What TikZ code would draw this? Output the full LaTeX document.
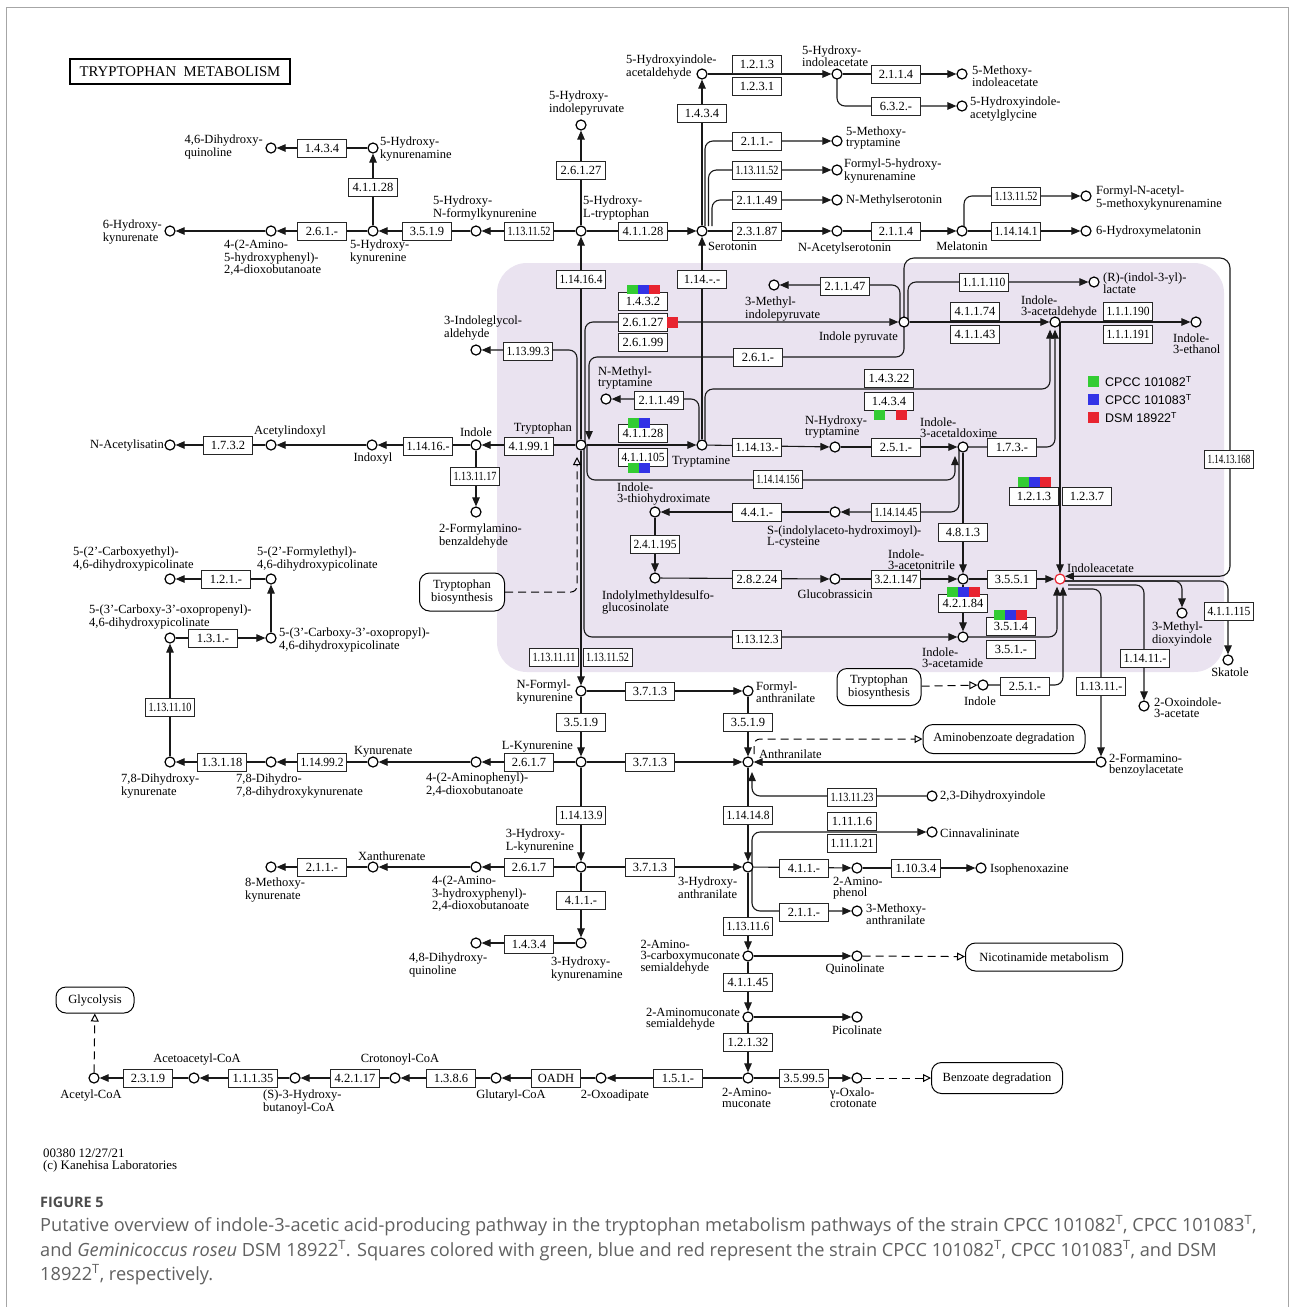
\documentclass[tikz,border=0pt]{standalone}
\usepackage{fontspec}
\usepackage{graphicx}
\setmainfont{Liberation Serif}
\newfontfamily\capfont{Open Sans}
\newfontfamily\legfont{Liberation Sans}
\usetikzlibrary{arrows.meta}
\pgfdeclarelayer{back}
\pgfdeclarelayer{lines}
\pgfsetlayers{back,lines,main}
\definecolor{purp}{RGB}{234,227,240}
\definecolor{cg}{RGB}{51,204,51}
\definecolor{cb}{RGB}{51,51,230}
\definecolor{cr}{RGB}{232,36,48}
\newcommand{\labfont}{\fontsize{12.5}{11}\selectfont}
\newsavebox\ecsave
\newcommand{\ecfit}[1]{\sbox\ecsave{#1}\ifdim\wd\ecsave>43pt\relax\resizebox{43pt}{\height}{#1}\else\usebox\ecsave\fi}
\tikzset{
  cpd/.style={circle, draw=black, fill=white, line width=1.2pt, minimum size=10pt, inner sep=0pt},
  ec/.style={draw=black!85, fill=white, line width=0.9pt, minimum width=49pt, minimum height=18pt, inner sep=0pt, font=\labfont},
  lab/.style={font=\labfont, inner sep=0pt, align=left},
  rxn/.style={line width=1.1pt, draw=black!90},
  arr/.style={-{Triangle[length=9pt,width=7.5pt]}},
  oarr/.style={-{Triangle[open,length=8pt,width=8pt]}},
  dashln/.style={dash pattern=on 8pt off 5pt, line width=1pt},
  mapn/.style={draw, rounded corners=10pt, line width=1pt, fill=white, font=\labfont, align=center, inner sep=2pt},
  legtxt/.style={font=\legfont\fontsize{12.5}{14}\selectfont, inner sep=0pt, anchor=west},
  captxt/.style={anchor=base west, inner sep=0pt, text=black!62, font=\capfont\fontsize{18.2}{20}\selectfont},
}
\newcommand{\Cpd}[2]{\node[cpd] (#1) at (#2) {};}
\newcommand{\Enz}[3]{\node[ec] (#1) at (#2) {\ecfit{#3}};}
\newcommand{\Lab}[4]{\node[lab,anchor=#3] (#1) at (#2) {#4};}
\begin{document}
\begin{tikzpicture}[x=1pt,y=-1pt]
\useasboundingbox (0,0) rectangle (1293,1307);
\begin{pgfonlayer}{back}
\fill[white] (0,0) rectangle (1293,1307);
\fill[purp, rounded corners=30pt] (497,263) rectangle (1224,672);
\end{pgfonlayer}
\draw[black!35, line width=1pt] (6,7) rectangle (1288,1330);

\node[draw, line width=1.8pt, minimum width=220pt, minimum height=25pt, inner sep=0pt, font=\fontsize{14.8}{15}\selectfont] (title) at (180,71.5) {TRYPTOPHAN\ \ METABOLISM};

% ---------- top part ----------
\Cpd{hka}{373,148}
\Enz{e1434a}{322,148}{1.4.3.4}
\Cpd{dhq46}{271,148}
\Enz{e41128a}{373,187}{4.1.1.28}
\Cpd{hk}{373,231}
\Enz{e2612a}{322,231}{2.6.1.-}
\Cpd{ahpd}{271,231}
\Cpd{hkyna}{170,231}
\Enz{e3519a}{427,231}{3.5.1.9}
\Cpd{hnfk}{476,231}
\Enz{e131152a}{529,231}{1.13.11.52}
\Cpd{htp}{581,231}
\Enz{e26127a}{581,170}{2.6.1.27}
\Cpd{hipyr}{581,125}
\Enz{e41128b}{643,231}{4.1.1.28}
\Cpd{ser}{702,231}
\Enz{e1434b}{702,113}{1.4.3.4}
\Cpd{hial}{702,74}
\Enz{e1213a}{757,64}{1.2.1.3}
\Enz{e1231}{757,86.5}{1.2.3.1}
\Cpd{hiaa}{837,74}
\Enz{e2114a}{896,74}{2.1.1.4}
\Cpd{miaa}{962,74}
\Enz{e632}{896,106}{6.3.2.-}
\Cpd{higly}{962,106}
\Enz{e211a}{757,141}{2.1.1.-}
\Cpd{mtry}{837,141}
\Enz{e131152b}{757,170}{1.13.11.52}
\Cpd{fhk}{837,170}
\Enz{e21149a}{757,200}{2.1.1.49}
\Cpd{nms}{837,200}
\Enz{e23187}{757,231}{2.3.1.87}
\Cpd{nas}{837,231}
\Enz{e2114b}{896,231}{2.1.1.4}
\Cpd{mel}{962,231}
\Enz{e131152c}{1016,196}{1.13.11.52}
\Cpd{fnak}{1086,196}
\Enz{e114141}{1016,231}{1.14.14.1}
\Cpd{hmel}{1086,231}
\Enz{e114164}{581,279}{1.14.16.4}
\Enz{e114xx}{702,279}{1.14.-.-}

\Lab{l-hka}{380,149}{west}{5-Hydroxy-\\kynurenamine}
\Lab{l-dhq46}{263,147}{east}{4,6-Dihydroxy-\\quinoline}
\Lab{l-hk}{350,240}{north west}{5-Hydroxy-\\kynurenine}
\Lab{l-ahpd}{224,240}{north west}{4-(2-Amino-\\5-hydroxyphenyl)-\\2,4-dioxobutanoate}
\Lab{l-hkyna}{162,232}{east}{6-Hydroxy-\\kynurenate}
\Lab{l-hnfk}{433,220}{south west}{5-Hydroxy-\\N-formylkynurenine}
\Lab{l-htp}{583,220}{south west}{5-Hydroxy-\\L-tryptophan}
\Lab{l-hipyr}{549,115}{south west}{5-Hydroxy-\\indolepyruvate}
\Lab{l-ser}{708,242}{north west}{Serotonin}
\Lab{l-hial}{626,55}{north west}{5-Hydroxyindole-\\acetaldehyde}
\Lab{l-hiaa}{802,67}{south west}{5-Hydroxy-\\indoleacetate}
\Lab{l-miaa}{972,76}{west}{5-Methoxy-\\indoleacetate}
\Lab{l-higly}{970,109}{west}{5-Hydroxyindole-\\acetylglycine}
\Lab{l-mtry}{846,138}{west}{5-Methoxy-\\tryptamine}
\Lab{l-fhk}{844,171}{west}{Formyl-5-hydroxy-\\kynurenamine}
\Lab{l-nms}{846,201}{west}{N-Methylserotonin}
\Lab{l-nas}{798,243}{north west}{N-Acetylserotonin}
\Lab{l-mel}{962,242}{north}{Melatonin}
\Lab{l-fnak}{1096,198}{west}{Formyl-N-acetyl-\\5-methoxykynurenamine}
\Lab{l-hmel}{1096,232}{west}{6-Hydroxymelatonin}

% ---------- purple region ----------
\Enz{e2147}{845,286}{2.1.1.47}
\Cpd{mipyr}{774,285}
\Lab{l-mipyr}{745,297}{north west}{3-Methyl-\\indolepyruvate}
\Cpd{ipyr}{904,322}
\Lab{l-ipyr}{898,332}{north east}{Indole pyruvate}
\Enz{e11110}{984,282}{1.1.1.110}
\Cpd{ila}{1094,282}
\Lab{l-ila}{1103,283}{west}{(R)-(indol-3-yl)-\\lactate}
\Enz{e41174}{975,311}{4.1.1.74}
\Enz{e41143}{975,334}{4.1.1.43}
\Cpd{iaald}{1055,322}
\Lab{l-iaald}{1021,318}{south west}{Indole-\\3-acetaldehyde}
\Enz{e111190}{1128,311}{1.1.1.190}
\Enz{e111191}{1128,334}{1.1.1.191}
\Cpd{ieth}{1196,322}
\Lab{l-ieth}{1173,334}{north west}{Indole-\\3-ethanol}
\Enz{e1432}{643,301}{1.4.3.2}
\Enz{e26127b}{643,322}{2.6.1.27}
\Enz{e26199}{643,342}{2.6.1.99}
\Enz{e2612b}{758,357}{2.6.1.-}
\Cpd{iga}{476,350}
\Lab{l-iga}{444,340}{south west}{3-Indoleglycol-\\aldehyde}
\Enz{e113993}{528,351}{1.13.99.3}
\Cpd{nmt}{606,399}
\Lab{l-nmt}{598,389}{south west}{N-Methyl-\\tryptamine}
\Enz{e21149b}{659,400}{2.1.1.49}
\Enz{e14322}{889,378}{1.4.3.22}
\Enz{e1434c}{889,401}{1.4.3.4}
\Cpd{trp}{581,445}
\Lab{l-trp}{572,434}{south east}{Tryptophan}
\Enz{e41991}{529,446}{4.1.99.1}
\Cpd{ind}{476,445}
\Lab{l-ind}{476,437}{south}{Indole}
\Enz{e11416}{428,446}{1.14.16.-}
\Cpd{indx}{372,445}
\Lab{l-indx}{373,453}{north}{Indoxyl}
\Cpd{acind}{271,445}
\Lab{l-acind}{254,437}{south west}{Acetylindoxyl}
\Enz{e1732}{228,445}{1.7.3.2}
\Cpd{nai}{170,445}
\Lab{l-nai}{164,446}{east}{N-Acetylisatin}
\Enz{e1131117}{475,476}{1.13.11.17}
\Cpd{fab}{476,512}
\Lab{l-fab}{439,524}{north west}{2-Formylamino-\\benzaldehyde}
\Enz{e41128c}{643,433}{4.1.1.28}
\Enz{e411105}{643,457}{4.1.1.105}
\Cpd{tam}{702,445}
\Lab{l-tam}{672,456}{north west}{Tryptamine}
\Enz{e11413}{757,447}{1.14.13.-}
\Cpd{nht}{835,447}
\Lab{l-nht}{805,438}{south west}{N-Hydroxy-\\tryptamine}
\Enz{e2512a}{896,447}{2.5.1.-}
\Cpd{iaox}{963,447}
\Lab{l-iaox}{920,438}{south west}{Indole-\\3-acetaldoxime}
\Enz{e173}{1012,447}{1.7.3.-}
\Enz{e11414156}{778,479}{1.14.14.156}
\Cpd{ith}{655,512}
\Lab{l-ith}{617,505}{south west}{Indole-\\3-thiohydroximate}
\Enz{e441}{757,512}{4.4.1.-}
\Cpd{sic}{835,512}
\Lab{l-sic}{767,526}{north west}{S-(indolylaceto-hydroximoyl)-\\L-cysteine}
\Enz{e1141445}{896,512}{1.14.14.45}
\Enz{e241195}{655,544}{2.4.1.195}
\Cpd{idg}{655,578}
\Lab{l-idg}{602,590}{north west}{Indolylmethyldesulfo-\\glucosinolate}
\Enz{e28224}{757,579}{2.8.2.24}
\Cpd{gbr}{835,579}
\Lab{l-gbr}{835,590}{north}{Glucobrassicin}
\Enz{e321147}{896,579}{3.2.1.147}
\Cpd{ian}{963,579}
\Lab{l-ian}{888,570}{south west}{Indole-\\3-acetonitrile}
\Enz{e4813}{963,532}{4.8.1.3}
\Enz{e3551}{1012,579}{3.5.5.1}
\node[cpd, draw=cr] (iaa) at (1060,579) {};
\Lab{l-iaa}{1067,573}{south west}{Indoleacetate}
\Enz{e1213b}{1034,496}{1.2.1.3}
\Enz{e1237}{1087,496}{1.2.3.7}
\Enz{e42184}{963,603}{4.2.1.84}
\Cpd{iam}{963,637}
\Lab{l-iam}{922,648}{north west}{Indole-\\3-acetamide}
\Enz{e3514}{1011,626}{3.5.1.4}
\Enz{e351}{1011,649.5}{3.5.1.-}
\Enz{e113123}{757,639}{1.13.12.3}
\Enz{e1131111}{554,657}{1.13.11.11}
\Enz{e131152d}{607.5,657}{1.13.11.52}
\Enz{e11413168}{1229,459}{1.14.13.168}
\Enz{e411115}{1229,611}{4.1.1.115}
\Cpd{skat}{1228,660}
\Lab{l-skat}{1230,668}{north}{Skatole}
\Cpd{mdi}{1182,613}
\Lab{l-mdi}{1152,622}{north west}{3-Methyl-\\dioxyindole}
\Enz{e11411}{1145,658}{1.14.11.-}
\Cpd{oia}{1144,706}
\Lab{l-oia}{1154,708}{west}{2-Oxoindole-\\3-acetate}
\Enz{e11311}{1101,686}{1.13.11.-}
\Cpd{fba}{1101,762}
\Lab{l-fba}{1109,765}{west}{2-Formamino-\\benzoylacetate}
\node[mapn, minimum width=85pt, minimum height=38pt] (tbs1) at (462,592) {Tryptophan\\biosynthesis};
\node[mapn, minimum width=84pt, minimum height=37pt] (tbs2) at (879,687) {Tryptophan\\biosynthesis};
\Cpd{ind2}{983,685}
\Lab{l-ind2}{980,697}{north}{Indole}
\Enz{e2512b}{1025,686}{2.5.1.-}

% legend
\fill[cg] (1088,376) rectangle (1099,387);
\fill[cb] (1088,394) rectangle (1099,405);
\fill[cr] (1088,412) rectangle (1099,423);
\node[legtxt] (leg1) at (1105,381.5) {CPCC 101082\textsuperscript{T}};
\node[legtxt] (leg2) at (1105,399.5) {CPCC 101083\textsuperscript{T}};
\node[legtxt] (leg3) at (1105,417.5) {DSM 18922\textsuperscript{T}};

% colour marks
\fill[cg] (627,285) rectangle (638,294); \fill[cb] (638,285) rectangle (649,294); \fill[cr] (649,285) rectangle (660,294);
\fill[cr] (667,317) rectangle (678,328);
\fill[cg] (628,418) rectangle (639,428); \fill[cb] (639,418) rectangle (650,428);
\fill[cg] (628,463) rectangle (639,473); \fill[cb] (639,463) rectangle (650,473);
\fill[cg] (874,410) rectangle (885,420); \fill[cr] (896,410) rectangle (907,420);
\fill[cg] (1018,477) rectangle (1029,487); \fill[cb] (1029,477) rectangle (1040,487); \fill[cr] (1040,477) rectangle (1051,487);
\fill[cg] (947,587) rectangle (958,597); \fill[cb] (958,587) rectangle (969,597); \fill[cr] (969,587) rectangle (980,597);
\fill[cg] (994,610) rectangle (1005,620); \fill[cb] (1005,610) rectangle (1016,620); \fill[cr] (1016,610) rectangle (1027,620);

% ---------- left picolinate ----------
\Cpd{cep}{170,579}
\Lab{l-cep}{73,571}{south west}{5-(2'-Carboxyethyl)-\\4,6-dihydroxypicolinate}
\Enz{e121}{226,579}{1.2.1.-}
\Cpd{fep}{271,579}
\Lab{l-fep}{257,571}{south west}{5-(2'-Formylethyl)-\\4,6-dihydroxypicolinate}
\Cpd{cop}{170,638}
\Lab{l-cop}{89,629}{south west}{5-(3'-Carboxy-3'-oxopropenyl)-\\4,6-dihydroxypicolinate}
\Enz{e131}{213,638}{1.3.1.-}
\Cpd{copr}{271,638}
\Lab{l-copr}{279,640}{west}{5-(3'-Carboxy-3'-oxopropyl)-\\4,6-dihydroxypicolinate}

% ---------- kynurenine part ----------
\Cpd{nfk}{581,691}
\Lab{l-nfk}{573,692}{east}{N-Formyl-\\kynurenine}
\Enz{e3713a}{650,691}{3.7.1.3}
\Cpd{fan}{748,691}
\Lab{l-fan}{756,692}{west}{Formyl-\\anthranilate}
\Enz{e3519b}{581,722}{3.5.1.9}
\Enz{e3519c}{748,722}{3.5.1.9}
\Cpd{kyn}{581,762}
\Lab{l-kyn}{573,752}{south east}{L-Kynurenine}
\Enz{e3713b}{650,762}{3.7.1.3}
\Cpd{ant}{748,762}
\Lab{l-ant}{759,754}{west}{Anthranilate}
\node[mapn, minimum width=162pt, minimum height=29pt] (amb) at (1004,739) {Aminobenzoate degradation};
\Enz{e2617a}{529,762}{2.6.1.7}
\Cpd{apd}{476,762}
\Lab{l-apd}{426,773}{north west}{4-(2-Aminophenyl)-\\2,4-dioxobutanoate}
\Cpd{kyna}{373,762}
\Lab{l-kyna}{354,757}{south west}{Kynurenate}
\Enz{e114992}{322,762}{1.14.99.2}
\Cpd{dhdk}{271,762}
\Lab{l-dhdk}{236,774}{north west}{7,8-Dihydro-\\7,8-dihydroxykynurenate}
\Enz{e13118}{222,762}{1.3.1.18}
\Cpd{dhk}{170,762}
\Lab{l-dhk}{121,774}{north west}{7,8-Dihydroxy-\\kynurenate}
\Enz{e1131110}{170,707}{1.13.11.10}
\Enz{e114139}{581,815}{1.14.13.9}
\Cpd{hkyn}{581,867}
\Lab{l-hkyn}{574,853}{south east}{3-Hydroxy-\\L-kynurenine}
\Enz{e3713c}{650,867}{3.7.1.3}
\Cpd{haa}{748,867}
\Lab{l-haa}{678,877}{north west}{3-Hydroxy-\\anthranilate}
\Enz{e2617b}{529,867}{2.6.1.7}
\Cpd{ahd}{476,867}
\Lab{l-ahd}{432,876}{north west}{4-(2-Amino-\\3-hydroxyphenyl)-\\2,4-dioxobutanoate}
\Cpd{xan}{373,867}
\Lab{l-xan}{358,861}{south west}{Xanthurenate}
\Enz{e211b}{322,867}{2.1.1.-}
\Cpd{mkyna}{271,867}
\Lab{l-mkyna}{245,878}{north west}{8-Methoxy-\\kynurenate}
\Enz{e411a}{581,900}{4.1.1.-}
\Cpd{hka3}{581,943}
\Lab{l-hka3}{551,957}{north west}{3-Hydroxy-\\kynurenamine}
\Enz{e1434d}{529,944}{1.4.3.4}
\Cpd{dhq48}{476,943}
\Lab{l-dhq48}{409,953}{north west}{4,8-Dihydroxy-\\quinoline}
\Enz{e114148}{748,815}{1.14.14.8}
\Enz{e1131123}{852,797}{1.13.11.23}
\Cpd{dhi}{932,796}
\Lab{l-dhi}{940,797}{west}{2,3-Dihydroxyindole}
\Enz{e11116}{852,821}{1.11.1.6}
\Enz{e111121}{852,843}{1.11.1.21}
\Cpd{cin}{932,832}
\Lab{l-cin}{940,833}{west}{Cinnavalininate}
\Enz{e411b}{804,868}{4.1.1.-}
\Cpd{ap}{857,868}
\Lab{l-ap}{833,877}{north west}{2-Amino-\\phenol}
\Enz{e11034}{916,868}{1.10.3.4}
\Cpd{iso}{981,868}
\Lab{l-iso}{990,869}{west}{Isophenoxazine}
\Enz{e211c}{804,912}{2.1.1.-}
\Cpd{man}{857,911}
\Lab{l-man}{866,914}{west}{3-Methoxy-\\anthranilate}
\Enz{e113116}{748,926}{1.13.11.6}
\Cpd{acms}{748,956}
\Lab{l-acms}{740,957}{east}{2-Amino-\\3-carboxymuconate\\semialdehyde}
\Cpd{quin}{857,956}
\Lab{l-quin}{855,964}{north}{Quinolinate}
\node[mapn, minimum width=157pt, minimum height=28pt] (nic) at (1044,957) {Nicotinamide metabolism};
\Enz{e41145}{748,982}{4.1.1.45}
\Cpd{ams}{748,1017}
\Lab{l-ams}{740,1019}{east}{2-Aminomuconate\\semialdehyde}
\Cpd{pic}{857,1017}
\Lab{l-pic}{857,1026}{north}{Picolinate}
\Enz{e12132}{748,1042}{1.2.1.32}
\Cpd{am}{748,1078}
\Lab{l-am}{722,1088}{north west}{2-Amino-\\muconate}
\Enz{e3599}{804,1078}{3.5.99.5}
\Cpd{oxc}{857,1078}
\Lab{l-oxc}{830,1088}{north west}{γ-Oxalo-\\crotonate}
\node[mapn, minimum width=131pt, minimum height=31pt] (bzd) at (997,1078) {Benzoate degradation};
\Enz{e151}{678,1078}{1.5.1.-}
\Cpd{oxa}{601,1078}
\Lab{l-oxa}{615,1090}{north}{2-Oxoadipate}
\Enz{eoadh}{556,1078}{OADH}
\Cpd{glu}{496,1078}
\Lab{l-glu}{511,1090}{north}{Glutaryl-CoA}
\Enz{e1386}{451,1078}{1.3.8.6}
\Cpd{cro}{395,1078}
\Lab{l-cro}{400,1065}{south}{Crotonoyl-CoA}
\Enz{e42117}{355,1078}{4.2.1.17}
\Cpd{hb}{295,1078}
\Lab{l-hb}{263,1090}{north west}{(S)-3-Hydroxy-\\butanoyl-CoA}
\Enz{e11135}{253,1078}{1.1.1.35}
\Cpd{aac}{194,1078}
\Lab{l-aac}{197,1065}{south}{Acetoacetyl-CoA}
\Enz{e2319}{148,1078}{2.3.1.9}
\Cpd{acoa}{94,1078}
\Lab{l-acoa}{91,1090}{north}{Acetyl-CoA}
\node[mapn, minimum width=78pt, minimum height=26pt] (gly) at (95,1000) {Glycolysis};
\node[lab, anchor=north west, font=\fontsize{12.9}{11.5}\selectfont] (foot) at (43,1149) {00380 12/27/21\\(c) Kanehisa Laboratories};

\coordinate (k1) at (1050,389);
\coordinate (k2) at (955,480);

% ---------- connectors ----------
\begin{pgfonlayer}{lines}
\draw[rxn,arr] (hka) -- (dhq46);
\draw[rxn,arr] (hk) -- (hka);
\draw[rxn,arr] (hk) -- (ahpd);
\draw[rxn,arr] (ahpd) -- (hkyna);
\draw[rxn,arr] (hnfk) -- (hk);
\draw[rxn,arr] (htp) -- (hnfk);
\draw[rxn,arr] (htp) -- (hipyr);
\draw[rxn,arr] (htp) -- (ser);
\draw[rxn,arr] (trp) -- (htp);
\draw[rxn,arr] (tam) -- (ser);
\draw[rxn,arr] (ser) -- (hial);
\draw[rxn,arr] (hial) -- (hiaa);
\draw[rxn,arr] (hiaa) -- (miaa);
\draw[rxn,arr,rounded corners=8pt] (hiaa.center) |- (higly);
\draw[rxn,arr,rounded corners=8pt] ([xshift=3pt,yshift=5pt]ser.center) |- (mtry);
\draw[rxn,arr,rounded corners=8pt] ([xshift=6.5pt,yshift=5pt]ser.center) |- (fhk);
\draw[rxn,arr,rounded corners=8pt] ([xshift=10pt,yshift=5pt]ser.center) |- (nms);
\draw[rxn,arr] (ser) -- (nas);
\draw[rxn,arr] (nas) -- (mel);
\draw[rxn,arr,rounded corners=8pt] ([xshift=2pt]mel.center) |- (fnak);
\draw[rxn,arr] (mel) -- (hmel);

\draw[rxn,arr,rounded corners=8pt] ([xshift=-4pt]ipyr.center) |- (mipyr);
\draw[rxn,arr,rounded corners=8pt] ([xshift=4pt]ipyr.center) |- (ila);
\draw[rxn,arr,rounded corners=10pt] (ipyr.center) -- ++(0,-64) -- ++(326,0) |- (iaa.30);
\draw[rxn,arr,rounded corners=8pt] ([xshift=4pt]trp.center) |- (ipyr);
\draw[rxn,arr,rounded corners=8pt] (ipyr.center) |- (e2612b.center) -| ([xshift=8pt,yshift=5pt]trp.center);
\draw[rxn,arr,rounded corners=8pt] ([xshift=-4pt]trp.center) |- (iga);
\draw[rxn,arr] (trp) -- (ind);
\draw[rxn,arr] (ind) -- (indx);
\draw[rxn,arr] (indx) -- (acind);
\draw[rxn,arr] (acind) -- (nai);
\draw[rxn,arr] (ind) -- (fab);
\draw[rxn,arr] (trp) -- (tam);
\draw[rxn,arr,rounded corners=8pt] ([xshift=-3pt]tam.center) |- (nmt);
\draw[rxn,arr,rounded corners=8pt] ([xshift=3pt]tam.center) |- (k1) -- ([xshift=-5pt,yshift=-2pt]iaald.south);
\draw[rxn,arr] (tam) -- (nht);
\draw[rxn,arr] (nht) -- (iaox);
\draw[rxn,arr,rounded corners=8pt] (iaox.center) -| ([yshift=-2pt]iaald.south);
\draw[rxn,arr] ([xshift=5pt]iaald.center) -- (iaa.north);
\draw[rxn,arr] (ipyr) -- (iaald);
\draw[rxn,arr] (iaald) -- (ieth);
\draw[rxn,arr,rounded corners=8pt] ([xshift=6pt]trp.center) |- (k2) -- ([xshift=-8pt,yshift=-9pt]iaox.center);
\draw[rxn,arr] (iaox) -- (ian);
\draw[rxn,arr,rounded corners=8pt] ([xshift=-4pt]iaox.center) |- (sic);
\draw[rxn,arr] (sic) -- (ith);
\draw[rxn,arr] (ith) -- (idg);
\draw[rxn,arr] (idg) -- (gbr);
\draw[rxn,arr] (gbr) -- (ian);
\draw[rxn,arr] (ian) -- (iaa);
\draw[rxn,arr] (ian) -- (iam);
\draw[rxn,arr,rounded corners=8pt] (iam.center) -| ([xshift=-3pt,yshift=-2pt]iaa.south);
\draw[rxn,arr,rounded corners=8pt] ([xshift=3pt]trp.center) |- (iam);
\draw[rxn,arr] (trp) -- (nfk);
\draw[dashln,oarr,rounded corners=6pt] (tbs1.east) -| ([xshift=-4pt,yshift=-12pt]trp.center);
\draw[dashln,oarr] (tbs2) -- (ind2);
\draw[rxn,arr,rounded corners=8pt] (ind2.center) -| ([xshift=3pt,yshift=-2pt]iaa.south);
\draw[rxn,arr,rounded corners=8pt] ([xshift=4pt,yshift=-2pt]iaa.center) -| (mdi);
\draw[rxn,arr,rounded corners=8pt] ([xshift=4pt,yshift=-2pt]iaa.center) -| (skat);
\draw[rxn,arr,rounded corners=8pt] ([xshift=8pt,yshift=-6pt]iaa.center) -| (oia);
\draw[rxn,arr,rounded corners=8pt] ([xshift=8pt,yshift=-10pt]iaa.center) -| (fba);

\draw[rxn,arr] (nfk) -- (fan);
\draw[rxn,arr] (nfk) -- (kyn);
\draw[rxn,arr] (fan) -- (ant);
\draw[rxn,arr] (kyn) -- (ant);
\draw[rxn,arr] (kyn) -- (apd);
\draw[rxn,arr] (apd) -- (kyna);
\draw[rxn,arr] (kyna) -- (dhdk);
\draw[rxn,arr] (dhdk) -- (dhk);
\draw[rxn,arr] (dhk) -- (cop);
\draw[rxn,arr] (cop) -- (copr);
\draw[rxn,arr] (copr) -- (fep);
\draw[rxn,arr] (fep) -- (cep);
\draw[rxn,arr] (kyn) -- (hkyn);
\draw[rxn,arr] (hkyn) -- (haa);
\draw[rxn,arr] (hkyn) -- (ahd);
\draw[rxn,arr] (ahd) -- (xan);
\draw[rxn,arr] (xan) -- (mkyna);
\draw[rxn,arr] (hkyn) -- (hka3);
\draw[rxn,arr] (hka3) -- (dhq48);
\draw[rxn,arr] (ant) -- (haa);
\draw[rxn,arr] (fba) -- (ant);
\draw[rxn,arr,rounded corners=8pt] (dhi) -| ([xshift=4pt,yshift=-10pt]ant.center);
\draw[dashln,oarr,rounded corners=6pt] ([xshift=6pt,yshift=8pt]ant.center) |- (amb);
\draw[rxn,arr,rounded corners=8pt] ([xshift=4pt]haa.center) |- (cin);
\draw[rxn,arr] (haa) -- (ap);
\draw[rxn,arr] (ap) -- (iso);
\draw[rxn,arr,rounded corners=8pt] ([xshift=4pt]haa.center) |- (man);
\draw[rxn,arr] (haa) -- (acms);
\draw[rxn,arr] (acms) -- (quin);
\draw[dashln,oarr] (quin) -- (nic);
\draw[rxn,arr] (acms) -- (ams);
\draw[rxn,arr] (ams) -- (pic);
\draw[rxn,arr] (ams) -- (am);
\draw[rxn,arr] (am) -- (oxc);
\draw[dashln,oarr] (oxc) -- (bzd);
\draw[rxn,arr] (am) -- (oxa);
\draw[rxn,arr] (oxa) -- (glu);
\draw[rxn,arr] (glu) -- (cro);
\draw[rxn,arr] (cro) -- (hb);
\draw[rxn,arr] (hb) -- (aac);
\draw[rxn,arr] (aac) -- (acoa);
\draw[dashln,oarr] (acoa) -- (gly);
\end{pgfonlayer}

% ---------- caption ----------
\node[anchor=west, inner sep=0pt, text=black!70, font=\capfont\bfseries\fontsize{14.4}{16}\selectfont] (fig) at (40,1202) {FIGURE 5};
\node[captxt] (cap1) at (40,1231) {Putative overview of indole-3-acetic acid-producing pathway in the tryptophan metabolism pathways of the strain CPCC 101082\textsuperscript{T}, CPCC 101083\textsuperscript{T},};
\node[captxt] (cap2) at (40,1256) {and \textit{Geminicoccus roseu} DSM 18922\textsuperscript{T}. Squares colored with green, blue and red represent the strain CPCC 101082\textsuperscript{T}, CPCC 101083\textsuperscript{T}, and DSM};
\node[captxt] (cap3) at (40,1280) {18922\textsuperscript{T}, respectively.};
\end{tikzpicture}
\end{document}
